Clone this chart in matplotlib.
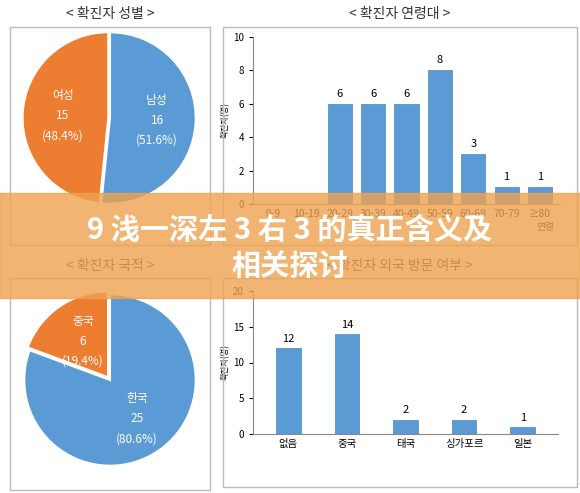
import matplotlib
matplotlib.use("Agg")
import matplotlib.pyplot as plt
from matplotlib.patches import Rectangle
import numpy as np

plt.rcParams['font.family'] = ['Noto Sans CJK KR', 'DejaVu Sans']

sex_labels = ['남성', '여성']
sex_values = [16, 15]
nat_labels = ['한국', '중국']
nat_values = [25, 6]
age_labels = ['0-9', '10-19', '20-29', '30-39', '40-49', '50-59', '60-69', '70-79', '≥80']
age_values = [0, 0, 6, 6, 6, 8, 3, 1, 1]
visit_labels = ['없음', '중국', '태국', '싱가포르', '일본']
visit_values = [12, 14, 2, 2, 1]

BLUE = '#5B9BD5'
ORANGE = '#ED7D31'
W, H = 580, 493
fig = plt.figure(figsize=(5.8, 4.93), dpi=100)
fig.patch.set_facecolor('white')

def ax_px(x0, y0, x1, y1):
    return fig.add_axes([x0 / W, 1 - y1 / H, (x1 - x0) / W, (y1 - y0) / H])

def frame(x0, y0, x1, y1):
    fig.patches.append(Rectangle((x0 / W, 1 - y1 / H), (x1 - x0) / W, (y1 - y0) / H,
                                 transform=fig.transFigure, fill=False, ec='#bbbbbb', lw=1))

def title(x, y, s):
    fig.text(x / W, 1 - y / H, s, ha='center', va='center', fontsize=10, color='#333333')

for f in [(10, 27, 210, 245), (223, 27, 577, 245), (10, 278, 210, 490), (223, 278, 577, 487)]:
    frame(*f)
title(110, 14, '< 확진자 성별 >')
title(400, 14, '< 확진자 연령대 >')
title(110, 266, '< 확진자 국적 >')
title(400, 266, '< 확진자 외국 방문 여부 >')

def pie(ax, labels, values, explode):
    tot = sum(values)
    wedges, _ = ax.pie(values, colors=[BLUE, ORANGE], startangle=90, counterclock=False,
                       explode=explode, radius=1.0, wedgeprops=dict(ec='white', lw=1.5))
    for w, l, v in zip(wedges, labels, values):
        ang = np.deg2rad((w.theta1 + w.theta2) / 2)
        r = 0.55
        ax.text(r * np.cos(ang), r * np.sin(ang), f'{l}\n{v}\n({v / tot * 100:.1f}%)',
                ha='center', va='center', color='white', fontsize=8.5, linespacing=1.7)
    ax.set_aspect('equal')
    ax.set_xlim(-1.05, 1.05)
    ax.set_ylim(-1.05, 1.05)

pie(ax_px(20, 28, 200, 208), sex_labels, sex_values, [0, 0.02])
pie(ax_px(20, 290, 200, 470), nat_labels, nat_values, [0, 0.04])

def bars(ax, labels, values, ymax, step, width):
    x = range(len(labels))
    ax.bar(x, values, color=BLUE, width=width, ec='#4a86c0', lw=0.5)
    for i, v in zip(x, values):
        if v:
            ax.text(i, v + ymax * 0.03, str(v), ha='center', va='bottom', fontsize=8)
    ax.set_ylim(0, ymax)
    ax.set_yticks(range(0, ymax + 1, step))
    ax.set_xticks(list(x))
    ax.set_xticklabels(labels, fontsize=7.5)
    ax.tick_params(axis='y', labelsize=7, length=3)
    ax.tick_params(axis='x', length=0)
    for s in ['top', 'right']:
        ax.spines[s].set_visible(False)
    for s in ['left', 'bottom']:
        ax.spines[s].set_color('#888888')
    ax.set_ylabel('확진자(명)', fontsize=6, labelpad=2)
    ax.set_xlim(-0.6, len(labels) - 0.4)

a1 = ax_px(253, 37, 560, 204)
bars(a1, age_labels, age_values, 10, 2, 0.72)
fig.text(545 / W, 1 - 227 / H, '연령', fontsize=7, ha='center', va='center')
a2 = ax_px(253, 291, 558, 434)
bars(a2, visit_labels, visit_values, 20, 5, 0.42)

fig.patches.append(Rectangle((0, 1 - 298 / H), 1, 105 / H, transform=fig.transFigure,
                             color='#EFA24F', alpha=0.8, zorder=10))
fig.text(290 / W, 1 - 230 / H, '9 浅一深左 3 右 3 的真正含义及', ha='center', va='center',
         fontsize=21, color='white', fontweight='bold', zorder=11,
         family=['Noto Sans CJK SC', 'DejaVu Sans'])
fig.text(290 / W, 1 - 267 / H, '相关探讨', ha='center', va='center',
         fontsize=21, color='white', fontweight='bold', zorder=11,
         family=['Noto Sans CJK SC', 'DejaVu Sans'])

fig.savefig('out.png', dpi=100)
